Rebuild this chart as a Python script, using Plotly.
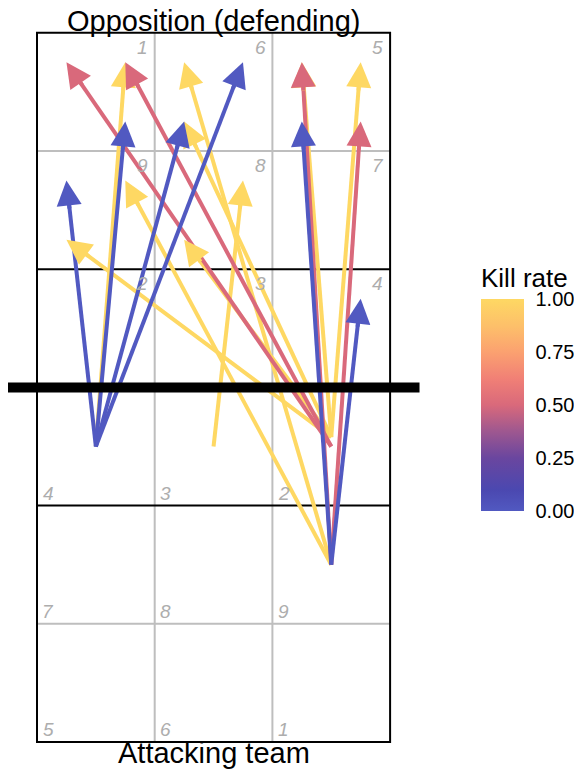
import math
import plotly.graph_objects as go

# ---------------- data ----------------
start_x = [1.0, 2.0, 3.0, 3.0, 3.0, 3.0, 3.0, 3.0, 3.0,
           3.0, 3.0, 3.0, 3.0,
           1.0, 1.0, 1.0, 1.0, 3.0, 3.0]
start_y = [3.0, 3.0, 3.08, 3.08, 3.08, 3.08, 3.08, 2.0, 2.0,
           3.0, 3.0, 2.0, 2.0,
           3.0, 3.0, 3.0, 3.0, 2.0, 2.0]
end_x = [1.25, 2.25, 1.75, 0.75, 1.75, 3.25, 2.75, 1.75, 1.25,
         0.75, 1.25, 2.75, 3.25,
         0.75, 1.25, 1.75, 2.25, 2.75, 3.25]
end_y = [6.25, 5.25, 5.75, 4.75, 4.75, 6.25, 6.25, 6.25, 5.25,
         6.25, 6.25, 6.25, 5.75,
         5.25, 5.75, 5.75, 6.25, 5.75, 4.25]
kill_rate = [1.0] * 9 + [0.5] * 4 + [0.0] * 6

opp_zone_labels = [["1", "6", "5"], ["9", "8", "7"], ["2", "3", "4"]]   # rows top -> down
att_zone_labels = [["4", "3", "2"], ["7", "8", "9"], ["5", "6", "1"]]   # rows top -> down

cbar_ticks = [0.0, 0.25, 0.5, 0.75, 1.0]
cbar_ticktext = ["0.00", "0.25", "0.50", "0.75", "1.00"]

colorscale = [
    [0.0, "#5159C1"], [0.1, "#4B48B0"], [0.25, "#6A469F"], [0.38, "#A0588F"],
    [0.5, "#D9697B"], [0.62, "#F07F76"], [0.75, "#FBA170"], [0.87, "#FDBF6A"],
    [1.0, "#FED863"],
]


def color_at(v):
    for (a, ca), (b, cb) in zip(colorscale[:-1], colorscale[1:]):
        if a <= v <= b:
            t = 0 if b == a else (v - a) / (b - a)
            c1 = [int(ca[i:i + 2], 16) for i in (1, 3, 5)]
            c2 = [int(cb[i:i + 2], 16) for i in (1, 3, 5)]
            c = [round(c1[k] + (c2[k] - c1[k]) * t) for k in range(3)]
            return "#%02X%02X%02X" % tuple(c)
    return colorscale[-1][1]


fig = go.Figure()

# ---------------- court ----------------
grey = "#BEBEBE"
shapes = []
for gx in (1.5, 2.5):
    shapes.append(dict(type="line", x0=gx, x1=gx, y0=0.5, y1=6.5,
                       line=dict(color=grey, width=2), layer="below"))
for gy in (1.5, 5.5):
    shapes.append(dict(type="line", x0=0.5, x1=3.5, y0=gy, y1=gy,
                       line=dict(color=grey, width=2), layer="below"))
for gy in (2.5, 4.5):
    shapes.append(dict(type="line", x0=0.5, x1=3.5, y0=gy, y1=gy,
                       line=dict(color="black", width=2), layer="below"))
shapes.append(dict(type="rect", x0=0.5, x1=3.5, y0=0.5, y1=6.5,
                   line=dict(color="black", width=2), layer="below"))
# net
shapes.append(dict(type="line", x0=0.25, x1=3.75, y0=3.5, y1=3.5,
                   line=dict(color="black", width=10), layer="above"))

# ---------------- arrows ----------------
for sx, sy, ex, ey, k in zip(start_x, start_y, end_x, end_y, kill_rate):
    c = color_at(k)
    dx, dy = ex - sx, ey - sy
    L = math.hypot(dx, dy)
    ux, uy = dx / L, dy / L
    fig.add_trace(go.Scatter(
        x=[sx, ex - 0.1 * ux], y=[sy, ey - 0.1 * uy], mode="lines",
        line=dict(color=c, width=4), hoverinfo="skip", showlegend=False))

annotations = []
for sx, sy, ex, ey, k in zip(start_x, start_y, end_x, end_y, kill_rate):
    c = color_at(k)
    dx, dy = ex - sx, ey - sy
    L = math.hypot(dx, dy)
    ux, uy = dx / L, dy / L
    annotations.append(dict(
        x=ex, y=ey, ax=ex - 0.25 * ux, ay=ey - 0.25 * uy,
        xref="x", yref="y", axref="x", ayref="y", text="",
        showarrow=True, arrowhead=2, arrowsize=1.25, arrowwidth=4, arrowcolor=c))

# colorbar carrier
fig.add_trace(go.Scatter(
    x=end_x, y=end_y, mode="markers", hoverinfo="skip", showlegend=False,
    marker=dict(size=1, opacity=0, color=kill_rate, colorscale=colorscale,
                cmin=0, cmax=1, showscale=True,
                colorbar=dict(
                    x=473 / 422, xanchor="left", xpad=0,
                    y=(763 - 503) / 763, yanchor="bottom", ypad=0,
                    len=247, lenmode="pixels", thickness=43,
                    outlinewidth=0,
                    tickvals=cbar_ticks, ticktext=cbar_ticktext,
                    ticks="outside", tickcolor="white", ticklen=8, tickwidth=1,
                    tickfont=dict(size=20, color="black"),
                    title=dict(text="Kill rate", side="top",
                               font=dict(size=26, color="black")),
                ))))

# zone labels
zone_font = dict(size=19, color="#ADADAD", style="italic")
for r, row in enumerate(opp_zone_labels):
    for ci, lab in enumerate(row):
        annotations.append(dict(x=1.5 + ci - 0.105, y=6.5 - r - 0.12, text=lab,
                                xref="x", yref="y", showarrow=False, font=zone_font))
for r, row in enumerate(att_zone_labels):
    for ci, lab in enumerate(row):
        annotations.append(dict(x=0.5 + ci + 0.095, y=2.5 - r + 0.105, text=lab,
                                xref="x", yref="y", showarrow=False, font=zone_font))

annotations.append(dict(x=2.0, y=6.6, text="Opposition (defending)", xref="x", yref="y",
                        showarrow=False, font=dict(size=29, color="black")))
annotations.append(dict(x=2.0, y=0.407, text="Attacking team", xref="x", yref="y",
                        showarrow=False, font=dict(size=29, color="black")))

fig.update_layout(
    width=574, height=763,
    margin=dict(l=0, r=152, t=0, b=0),
    paper_bgcolor="white", plot_bgcolor="white",
    font=dict(family="Liberation Sans, Arial, sans-serif"),
    xaxis=dict(range=[0.2536, 3.839], visible=False, showgrid=False, zeroline=False),
    yaxis=dict(range=[0.2547, 6.710], visible=False, showgrid=False, zeroline=False),
    shapes=shapes, annotations=annotations, showlegend=False,
)

fig.write_html("out.html")
